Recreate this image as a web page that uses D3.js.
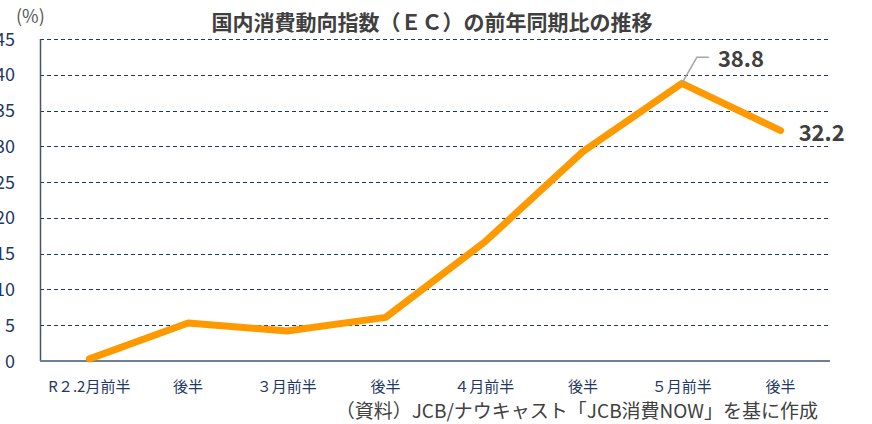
<!DOCTYPE html>
<html>
<head>
<meta charset="UTF-8">
<script src="https://d3js.org/d3.v7.min.js"></script>
<style>
  body { margin: 0; background: #fff; }
  svg { display: block; font-family: "Noto Sans CJK JP", "Noto Sans", sans-serif; }
</style>
</head>
<body>
<div id="chart"></div>
<script>
  var categories = ["R２.2月前半", "後半", "３月前半", "後半", "４月前半", "後半", "５月前半", "後半"];
  var values = [0.3, 5.3, 4.2, 6.1, 16.6, 29.3, 38.8, 32.2];
  var yTicks = [0, 5, 10, 15, 20, 25, 30, 35, 40, 45];

  var width = 872, height = 424;
  var plot = {left: 40, right: 830, top: 39, bottom: 361};

  var svg = d3.select("#chart").append("svg")
      .attr("width", width)
      .attr("height", height);

  var x = d3.scaleBand()
      .domain(d3.range(categories.length))
      .range([plot.left, plot.right]);

  var y = d3.scaleLinear()
      .domain([0, 45])
      .range([plot.bottom, plot.top]);

  // grid lines
  svg.append("g")
    .selectAll("line")
    .data(yTicks.filter(function(d) { return d > 0; }))
    .enter().append("line")
      .attr("x1", plot.left).attr("x2", plot.right)
      .attr("y1", function(d) { return Math.round(y(d)) + 0.5; })
      .attr("y2", function(d) { return Math.round(y(d)) + 0.5; })
      .attr("stroke", "#1f3864")
      .attr("stroke-width", 1)
      .attr("stroke-dasharray", "4,3");

  // axes lines
  svg.append("line")
      .attr("x1", plot.left + 0.5).attr("x2", plot.left + 0.5)
      .attr("y1", plot.top).attr("y2", plot.bottom)
      .attr("stroke", "#44546a").attr("stroke-width", 1.5);
  svg.append("line")
      .attr("x1", plot.left).attr("x2", plot.right)
      .attr("y1", plot.bottom).attr("y2", plot.bottom)
      .attr("stroke", "#6f7f99").attr("stroke-width", 2);

  // y tick labels (cut at the left edge, as in the original)
  svg.append("g")
    .selectAll("text")
    .data(yTicks)
    .enter().append("text")
      .attr("x", 15)
      .attr("y", function(d) { return y(d) + 6.5; })
      .attr("text-anchor", "end")
      .attr("fill", "#1f3864")
      .style("font-size", "18px")
      .text(function(d) { return d; });

  // x labels
  svg.append("g")
    .selectAll("text")
    .data(categories)
    .enter().append("text")
      .attr("x", function(d, i) { return x(i) + x.bandwidth() / 2; })
      .attr("y", 392)
      .attr("text-anchor", "middle")
      .attr("fill", "#1f3864")
      .style("font-size", "15px")
      .text(function(d) { return d; });

  // line
  var line = d3.line()
      .x(function(d, i) { return x(i) + x.bandwidth() / 2; })
      .y(function(d) { return y(d); });

  svg.append("path")
      .datum(values)
      .attr("d", line)
      .attr("fill", "none")
      .attr("stroke", "#ff9900")
      .attr("stroke-width", 7)
      .attr("stroke-linejoin", "round")
      .attr("stroke-linecap", "round");

  // data labels
  var peak = 6, last = 7;
  var px = x(peak) + x.bandwidth() / 2, py = y(values[peak]);
  svg.append("polyline")
      .attr("points", [[px, py], [px + 15, py - 26], [px + 27, py - 26]].join(" "))
      .attr("fill", "none")
      .attr("stroke", "#a6a6a6")
      .attr("stroke-width", 1.5);
  svg.append("text")
      .attr("x", px + 36)
      .attr("y", py - 16)
      .attr("fill", "#404040")
      .attr("font-weight", "bold")
      .style("font-size", "22px")
      .text(values[peak].toFixed(1));
  svg.append("text")
      .attr("x", x(last) + x.bandwidth() / 2 + 18)
      .attr("y", y(values[last]) + 10)
      .attr("fill", "#404040")
      .attr("font-weight", "bold")
      .style("font-size", "22px")
      .text(values[last].toFixed(1));

  // title and notes
  svg.append("text")
      .attr("x", 432)
      .attr("y", 30)
      .attr("text-anchor", "middle")
      .attr("fill", "#404040")
      .attr("font-weight", "bold")
      .style("font-size", "21px")
      .text("国内消費動向指数（ＥＣ）の前年同期比の推移");

  svg.append("text")
      .attr("x", 16)
      .attr("y", 23)
      .attr("fill", "#595959")
      .style("font-size", "18px")
      .text("(%)");

  svg.append("text")
      .attr("x", 818)
      .attr("y", 418)
      .attr("text-anchor", "end")
      .attr("fill", "#404040")
      .style("font-size", "19px")
      .text("（資料）JCB/ナウキャスト「JCB消費NOW」を基に作成");
</script>
</body>
</html>
